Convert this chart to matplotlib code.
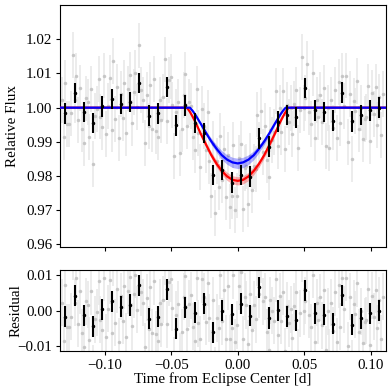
import numpy as np
import matplotlib
matplotlib.use("Agg")
import matplotlib.pyplot as plt

plt.rcParams['font.family'] = 'serif'
plt.rcParams['font.serif'] = ['Liberation Serif', 'DejaVu Serif']
plt.rcParams['mathtext.fontset'] = 'stix'
plt.rcParams['font.size'] = 10.8
plt.rcParams['xtick.major.size'] = 3
plt.rcParams['ytick.major.size'] = 3
plt.rcParams['xtick.major.pad'] = 2.5
plt.rcParams['ytick.major.pad'] = 2.5

# binned (10 min) light curve
bin_time = [-0.1296, -0.1227, -0.1157, -0.1088, -0.1019, -0.0949, -0.0880, -0.0810,
            -0.0741, -0.0671, -0.0602, -0.0533, -0.0463, -0.0394, -0.0324, -0.0255,
            -0.0185, -0.0116, -0.0047, 0.0023, 0.0092, 0.0162, 0.0231, 0.0300,
            0.0370, 0.0439, 0.0509, 0.0578, 0.0648, 0.0717, 0.0786, 0.0856,
            0.0925, 0.0995, 0.1064]
bin_flux = [0.9983, 1.0043, 0.9987, 0.9955, 1.0004, 1.0026, 1.0011, 1.0016,
            1.0072, 0.9977, 0.9983, 1.0061, 0.9948, 1.0007, 0.9955, 0.9926,
            0.9803, 0.9818, 0.9781, 0.9803, 0.9798, 0.9910, 0.9886, 0.9959,
            0.9979, 0.9972, 1.0058, 0.9992, 0.9988, 0.9962, 1.0044, 0.9960,
            0.9978, 0.9992, 1.0000]
bin_resid = [-0.0017, 0.0043, -0.0013, -0.0045, 0.0004, 0.0026, 0.0011, 0.0016,
             0.0072, -0.0023, -0.0017, 0.0061, -0.0052, 0.0009, -0.0006, 0.0019,
             -0.0061, 0.0000, -0.0010, 0.0019, -0.0014, 0.0066, -0.0021, 0.0001,
             -0.0016, -0.0028, 0.0058, -0.0008, -0.0012, -0.0038, 0.0044, -0.0040,
             -0.0022, -0.0008, 0.0000]
bin_err = 0.003

# unbinned points: 5 per bin, offsets from the bin value (ppt)
sub_dt = [-0.0028, -0.0014, 0.0, 0.0014, 0.0028]
raw_offsets_ppt = [
    [4, -7, 9, -3, -3], [-6, 11, -2, 5, -8], [7, -5, -9, 4, 3], [-4, 10, -12, 2, 4],
    [8, -3, -6, 9, -8], [-2, 6, -9, 11, -6], [5, -10, 3, -4, 6], [-9, 4, 8, -6, 3],
    [3, -7, 11, -2, -5], [-8, 6, -3, 9, -4], [10, -5, -7, 4, -2], [-3, 8, -10, 2, 3],
    [6, -9, 4, 7, -8], [-7, 3, 9, -6, 1], [5, -4, -8, 10, -3], [-10, 7, 2, -5, 6],
    [4, -6, 9, -11, 4], [-5, 10, -3, 6, -8], [8, -7, -4, 11, -8], [-6, 5, 9, -10, 2],
    [3, -8, 6, -4, 3], [-9, 7, -2, 8, -4], [6, -4, -9, 5, 2], [-3, 9, -7, 4, -3],
    [7, -10, 3, -2, 2], [-5, 4, 8, -9, 2], [9, -6, -3, 7, -7], [-4, 11, -8, 3, -2],
    [5, -3, 7, -10, 1], [-8, 6, -2, 9, -5], [3, -9, 5, -4, 5], [-6, 8, -11, 6, 3],
    [10, -4, 2, -7, -1], [-2, 7, -9, 5, -1], [6, -5, 3, -8, 4]]
raw_err = 0.0067

# eclipse models
model_time = [-0.140, -0.040, -0.038, -0.036, -0.034, -0.032, -0.028, -0.024, -0.020,
              -0.016, -0.012, -0.008, -0.004, 0.000, 0.004, 0.008, 0.012, 0.016,
              0.020, 0.024, 0.028, 0.032, 0.034, 0.036, 0.038, 0.040, 0.120]
blue_model = [1.0, 1.0, 1.0, 1.0, 0.9991, 0.9980, 0.9954, 0.9927, 0.9902,
              0.9880, 0.9861, 0.9848, 0.9840, 0.9837, 0.9840, 0.9848, 0.9861, 0.9880,
              0.9902, 0.9927, 0.9954, 0.9980, 0.9991, 1.0, 1.0, 1.0, 1.0]
blue_band = [0, 0, 0, 0, 0.0001, 0.0002, 0.0004, 0.0006, 0.0009,
             0.0011, 0.0013, 0.0014, 0.0015, 0.0015, 0.0015, 0.0014, 0.0013, 0.0011,
             0.0009, 0.0006, 0.0004, 0.0002, 0.0001, 0, 0, 0, 0]
red_model = [1.0, 1.0, 0.9999, 0.9988, 0.9974, 0.9959, 0.9925, 0.9893, 0.9862,
             0.9836, 0.9815, 0.9799, 0.9789, 0.9786, 0.9789, 0.9799, 0.9815, 0.9836,
             0.9862, 0.9893, 0.9925, 0.9959, 0.9974, 0.9988, 0.9999, 1.0, 1.0]
red_band = [0, 0, 0, 0.0001, 0.0002, 0.0003, 0.0005, 0.0007, 0.0009,
            0.0010, 0.0011, 0.0012, 0.0012, 0.0012, 0.0012, 0.0012, 0.0011, 0.0010,
            0.0009, 0.0007, 0.0005, 0.0003, 0.0002, 0.0001, 0, 0, 0]

bt = np.array(bin_time)
off = np.array(raw_offsets_ppt) / 1000.0
raw_time = (bt[:, None] + np.array(sub_dt)[None, :]).ravel()
raw_flux = (np.array(bin_flux)[:, None] + off).ravel()
raw_resid = (np.array(bin_resid)[:, None] + off).ravel()

mt = np.array(model_time)
bm, bb = np.array(blue_model), np.array(blue_band)
rm, rb = np.array(red_model), np.array(red_band)

fig = plt.figure(figsize=(3.9, 3.9), dpi=100)
ax1 = fig.add_axes([0.154, 0.367, 0.836, 0.620])
ax2 = fig.add_axes([0.154, 0.100, 0.836, 0.208], sharex=ax1)

gray_kw = dict(fmt='.', color='#c4c4c4', ecolor='#e6e6e6', ms=3, elinewidth=1.2,
               alpha=0.9, zorder=1)
ax1.errorbar(raw_time, raw_flux, yerr=raw_err, **gray_kw)
ax2.errorbar(raw_time, raw_resid, yerr=raw_err, **gray_kw)

ax1.fill_between(mt, rm - rb, rm + rb, color='r', alpha=0.3, lw=0, zorder=2)
ax1.plot(mt, rm, color='r', lw=1.6, zorder=3)
ax1.fill_between(mt, bm - bb, bm + bb, color='b', alpha=0.3, lw=0, zorder=4)
ax1.plot(mt, bm, color='b', lw=1.6, zorder=5)

ax1.errorbar(bin_time, bin_flux, yerr=bin_err, fmt='.', color='k', ms=3,
             elinewidth=1.5, zorder=6)
ax2.errorbar(bin_time, bin_resid, yerr=bin_err, fmt='.', color='k', ms=3,
             elinewidth=1.5, zorder=6)

ax1.set_xlim(-0.1336, 0.1115)
ax1.set_ylim(0.9593, 1.0300)
ax1.set_yticks([0.96, 0.97, 0.98, 0.99, 1.00, 1.01, 1.02])
ax1.set_ylabel('Relative Flux')
ax1.tick_params(labelbottom=False)

ax2.set_ylim(-0.0115, 0.0116)
ax2.set_yticks([-0.01, 0.0, 0.01])
ax2.set_xticks([-0.10, -0.05, 0.0, 0.05, 0.10])
ax2.set_ylabel('Residual')
ax2.set_xlabel('Time from Eclipse Center [d]', labelpad=0.5)

ax1.yaxis.set_label_coords(-0.125, 0.5)
ax2.yaxis.set_label_coords(-0.115, 0.5)

fig.savefig('out.png', dpi=100)
